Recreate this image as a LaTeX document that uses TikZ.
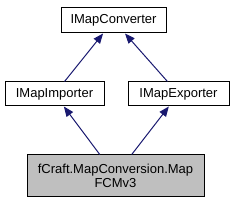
\documentclass[tikz,border=0pt]{standalone}
\usepackage{fontspec}
\setmainfont{Liberation Sans}
\usetikzlibrary{arrows.meta}
\definecolor{edgeblue}{HTML}{191970}
\definecolor{boxgray}{HTML}{BFBFBF}

\begin{document}
\begin{tikzpicture}[x=1pt,y=-1pt]
		\tikzset{classbox/.style={draw=black, line width=1pt, inner sep=0pt, align=center, font=\fontsize{13}{14}\selectfont},
			inherit/.style={-{Triangle[length=10pt,width=8pt]}, line width=1pt, edgeblue}};
		\useasboundingbox (0,0) rectangle (233,203);
		\node[classbox, minimum width=105pt, minimum height=25pt] (conv) at (113.5,20.5) {IMapConverter};
		\node[classbox, minimum width=99pt, minimum height=24pt] (imp) at (54.5,94) {IMapImporter};
		\node[classbox, minimum width=101pt, minimum height=24pt] (exp) at (178.5,94) {IMapExporter};
		\node[classbox, fill=boxgray, minimum width=177pt, minimum height=41pt] (fcm) at (115.5,175.5) {fCraft.MapConversion.Map\\FCMv3};
		\draw[inherit] (imp) -- (conv);
		\draw[inherit] (exp) -- (conv);
		\draw[inherit] (fcm) -- (imp);
		\draw[inherit] (fcm) -- (exp);
	\end{tikzpicture}
\end{document}
